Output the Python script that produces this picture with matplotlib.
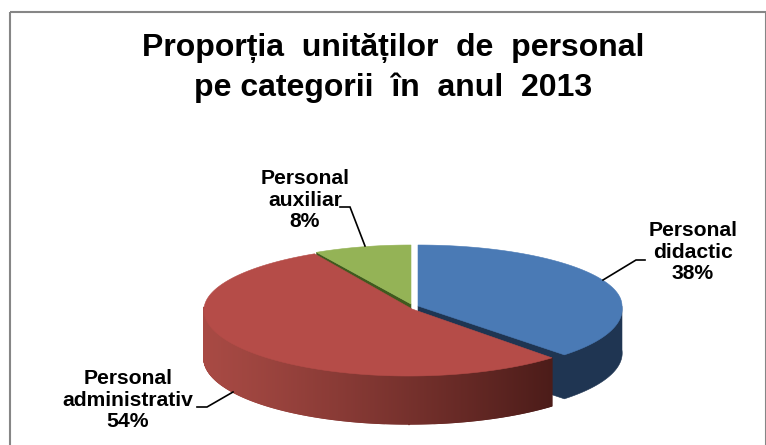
import numpy as np
import matplotlib
matplotlib.use("Agg")
import matplotlib.pyplot as plt
from matplotlib.patches import Polygon, Rectangle

plt.rcParams['font.family'] = ['Liberation Sans', 'DejaVu Sans']

# Data
categories = ["Personal didactic", "Personal administrativ", "Personal auxiliar"]
label_lines = ["Personal\ndidactic\n38%", "Personal\nadministrativ\n54%", "Personal\nauxiliar\n8%"]
values = [38, 54, 8]
title = "Proporția  unităților  de  personal\npe categorii  în  anul  2013"

# Style / layout (pixels)
W, H = 766, 445
top_colors = ["#4a7ab5", "#b54c48", "#94b356"]
wall_colors = ["#1f3552", "#a84a44", "#3f5a1e"]
wall_dark = "#4c1c19"
slices = [dict(cx=418, cy=306, rx=204, up=61, low=67, su=0.0, sl=0.137, depth=44),
          dict(cx=412, cy=309, rx=208, up=63, low=67, su=-0.05, sl=-0.05, depth=48),
          dict(cx=411, cy=304, rx=196, up=59, low=67, su=0.0, sl=0.0, depth=46)]
leaders = [[(603, 280), (636, 260), (645, 260)],
           [(233, 392), (207, 407), (197, 407)],
           [(365, 246), (350, 207), (340, 207)]]
label_pos = [(693, 252), (128, 400), (305, 200)]

fig = plt.figure(figsize=(W / 100, H / 100), dpi=100)
ax = fig.add_axes([0, 0, 1, 1])
ax.set_xlim(0, W)
ax.set_ylim(H, 0)
ax.axis("off")


def rim(s, a0, a1, n=200):
    t = np.radians(np.linspace(a0, a1, n))
    c = np.cos(t)
    ry = np.where(c >= 0, s["up"], s["low"])
    y = s["cy"] - ry * c
    dy = y - s["cy"]
    x = s["cx"] + s["rx"] * np.sin(t) + np.where(dy > 0, s["sl"], s["su"]) * dy
    return x, y


fr = np.cumsum([0] + values) / sum(values) * 360
order = [2, 0, 1]  # back to front
for z, i in enumerate(order):
    s = slices[i]
    d = s["depth"]
    a0, a1 = fr[i], fr[i + 1]
    x, y = rim(s, a0, a1)
    top = np.column_stack([np.r_[s["cx"], x], np.r_[s["cy"], y]])
    if i == 0:
        # visible wall of the blue slice and its cut face, as one outline
        col = wall_colors[i]
        xw, yw = rim(s, 90, a1)
        outline = [(s["cx"], s["cy"]), (xw[0], yw[0])]
        outline += list(zip(xw, yw + d))
        outline += [(s["cx"], s["cy"] + d)]
        ax.add_patch(Polygon(outline, closed=True, fc=col, ec=col, lw=0.4, zorder=1 + z))
    elif i == 2:
        col = wall_colors[i]
        face = [(s["cx"], s["cy"]), (x[0], y[0]), (x[0], y[0] + d), (s["cx"], s["cy"] + d)]
        ax.add_patch(Polygon(face, closed=True, fc=col, ec=col, lw=0.4, zorder=1 + z))
    else:
        # outer wall shaded from light on the left to dark on the right
        c0 = np.array(matplotlib.colors.to_rgb(wall_colors[1]))
        c1 = np.array(matplotlib.colors.to_rgb(wall_dark))
        xs, ys = rim(s, 272, a0, 500)
        xmin, xmax = xs.min(), xs.max()
        for k in range(len(xs) - 1):
            f = (((xs[k] + xs[k + 1]) / 2 - xmin) / (xmax - xmin)) ** 1.15
            col = c0 * (1 - f) + c1 * f
            ax.add_patch(Polygon([(xs[k], ys[k]), (xs[k + 1], ys[k + 1]),
                                  (xs[k + 1], ys[k + 1] + d), (xs[k], ys[k] + d)],
                                 closed=True, fc=col, ec=col, lw=1.0, zorder=1 + z))
    ax.add_patch(Polygon(top, closed=True, fc=top_colors[i], ec=top_colors[i], lw=0.4, zorder=1.5 + z))

for pts, (lx, ly), txt in zip(leaders, label_pos, label_lines):
    ax.plot(*zip(*pts), color="black", lw=1.2, zorder=10, solid_joinstyle="miter")
    ax.text(lx, ly, txt, ha="center", va="center", fontsize=15.2, fontweight="bold", linespacing=1.14, zorder=11)

ax.text(393, 68, title, ha="center", va="center", fontsize=23, fontweight="bold", linespacing=1.38, zorder=11)

ax.add_patch(Rectangle((10, 12), 755.5, 460, fc="none", ec="#868686", lw=1.5, zorder=12))

fig.savefig("out.png", dpi=100, facecolor="white")
